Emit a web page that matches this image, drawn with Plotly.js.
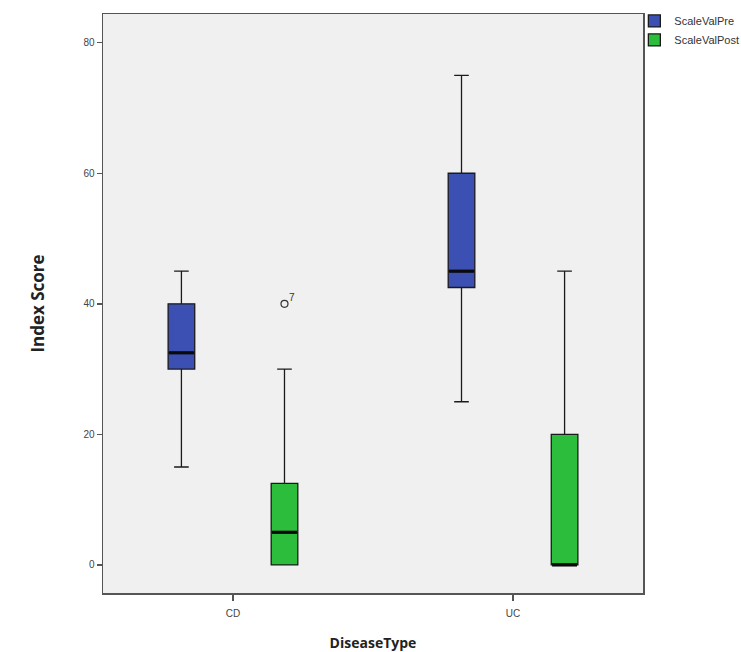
<!DOCTYPE html>
<html><head><meta charset="utf-8">
<script src="https://cdn.plot.ly/plotly-3.0.1.min.js"></script>
<style>body{margin:0;background:#fff}#chart{width:741px;height:652px}</style>
</head><body><div id="chart"></div>
<script>
// Data
const categories = ['CD', 'UC'];
const seriesNames = ['ScaleValPre', 'ScaleValPost'];
const preMin = [15, 25];
const preQ1 = [30, 42.5];
const preMedian = [32.5, 45];
const preQ3 = [40, 60];
const preMax = [45, 75];
const postMin = [0, 0];
const postQ1 = [0, 0];
const postMedian = [5, 0];
const postQ3 = [12.5, 20];
const postMax = [30, 45];
const outlierCategory = ['CD'];
const outlierSeries = ['ScaleValPost'];
const outlierValue = [40];
const outlierLabel = ['7'];
const yTicks = [0, 20, 40, 60, 80];

// Layout helpers (styling)
const offset = 0.184;
const boxW = 0.095;
const colors = {ScaleValPre: '#3c4fb3', ScaleValPost: '#2dbd3d'};
const catIdx = categories.map((c, i) => i);
const xpos = name => catIdx.map(i => i + (name === 'ScaleValPre' ? -offset : offset));

const stats = {
  ScaleValPre: {lo: preMin, q1: preQ1, med: preMedian, q3: preQ3, hi: preMax},
  ScaleValPost: {lo: postMin, q1: postQ1, med: postMedian, q3: postQ3, hi: postMax}
};

const traces = [];
seriesNames.forEach(name => {
  const s = stats[name];
  traces.push({
    type: 'box', name: name, x: xpos(name),
    q1: s.q1, median: s.med, q3: s.q3, lowerfence: s.lo, upperfence: s.hi,
    width: boxW, whiskerwidth: 0.55,
    fillcolor: colors[name],
    line: {color: '#1a1a1a', width: 1.3},
    boxpoints: false, hoverinfo: 'skip'
  });
});
// thick median lines
seriesNames.forEach(name => {
  const s = stats[name];
  const xs = [], ys = [];
  xpos(name).forEach((x, i) => { xs.push(x - boxW/2 + 0.003, x + boxW/2 - 0.003, null); ys.push(s.med[i], s.med[i], null); });
  traces.push({type: 'scatter', mode: 'lines', x: xs, y: ys, line: {color: '#0a0a0a', width: 3.2}, showlegend: false, hoverinfo: 'skip'});
});
// outliers
const ox = outlierCategory.map((c, i) => categories.indexOf(c) + (outlierSeries[i] === 'ScaleValPre' ? -offset : offset));
traces.push({type: 'scatter', mode: 'markers', x: ox, y: outlierValue,
  marker: {symbol: 'circle-open', size: 7, color: '#333', line: {width: 1.2}}, showlegend: false, hoverinfo: 'skip'});

const annotations = ox.map((x, i) => ({x: x, y: outlierValue[i], text: outlierLabel[i], showarrow: false,
  xshift: 8, yshift: 6, font: {family: 'Liberation Sans, Arial', size: 10, color: '#333'}}));

const layout = {
  width: 741, height: 652,
  margin: {l: 103, r: 98, t: 14, b: 59, autoexpand: false},
  paper_bgcolor: '#ffffff', plot_bgcolor: '#f0f0f0',
  showlegend: true,
  legend: {x: 0.984, xanchor: 'left', y: 1.013, yanchor: 'top', bgcolor: 'rgba(0,0,0,0)',
    font: {family: 'Liberation Sans, Arial', size: 11, color: '#333'}, tracegroupgap: 0, itemwidth: 30},
  xaxis: {
    range: [-0.464, 1.464], tickvals: catIdx, ticktext: categories,
    showgrid: false, zeroline: false, showline: true, linecolor: '#555', linewidth: 1.5, mirror: true,
    ticks: 'outside', ticklen: 6, tickcolor: '#555', tickwidth: 1.5, ticklabelstandoff: 4,
    tickfont: {family: 'Liberation Sans, Arial', size: 10, color: '#444'},
    title: {text: 'DiseaseType', font: {family: 'Open Sans, sans-serif', size: 14, color: '#222', weight: 'bold'}, standoff: 20}
  },
  yaxis: {
    range: [-4.3, 84.4], tickvals: yTicks,
    showgrid: false, zeroline: false, showline: true, linecolor: '#555', linewidth: 1.5, mirror: true,
    ticks: 'outside', ticklen: 5, tickcolor: '#555', tickwidth: 1.5,
    tickfont: {family: 'Liberation Sans, Arial', size: 10, color: '#444'},
    title: {text: 'Index Score', font: {family: 'Open Sans, sans-serif', size: 17, color: '#222', weight: 'bold'}, standoff: 34}
  },
  annotations: annotations
};
Plotly.newPlot('chart', traces, layout, {displayModeBar: false, staticPlot: true});
</script>
</body></html>
